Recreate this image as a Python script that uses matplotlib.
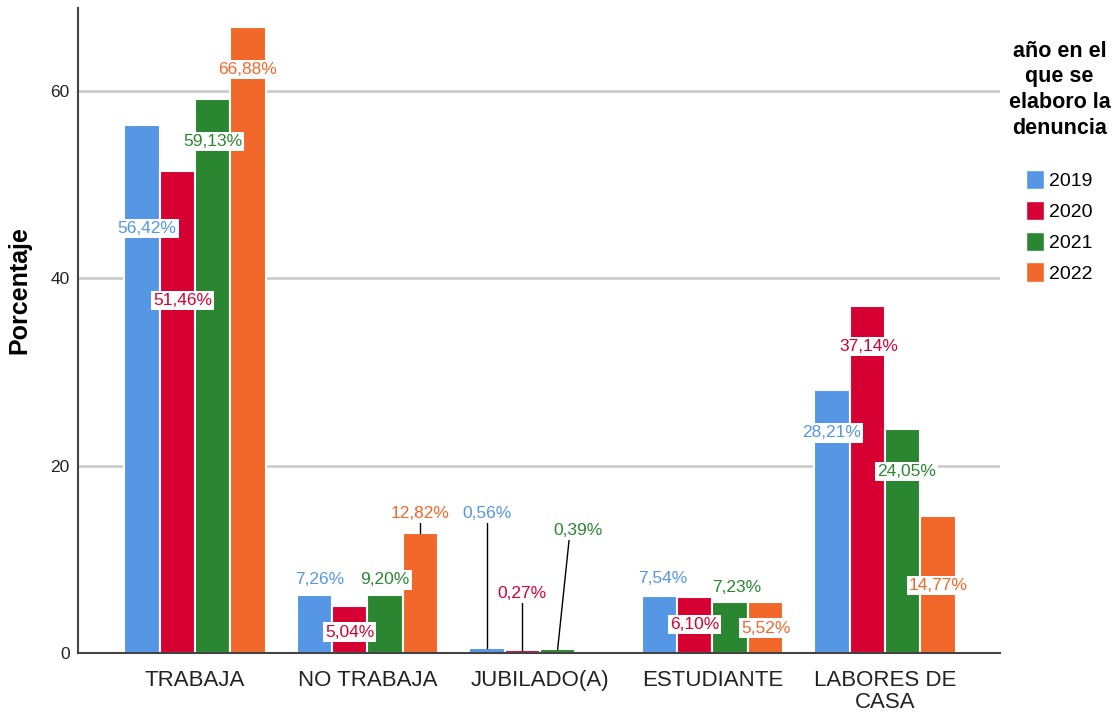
import numpy as np
import matplotlib.pyplot as plt
from matplotlib.patches import Patch

plt.rcParams['font.family'] = ['Liberation Sans', 'DejaVu Sans']

categories = ['TRABAJA', 'NO TRABAJA', 'JUBILADO(A)', 'ESTUDIANTE', 'LABORES DE\nCASA']
years = ['2019', '2020', '2021', '2022']

# bar heights as drawn in the picture (%)
v2019 = [56.42, 6.15, 0.56, 6.14, 28.1]
v2020 = [51.46, 5.0, 0.27, 6.0, 37.1]
v2021 = [59.13, 6.15, 0.39, 5.4, 23.9]
v2022 = [66.88, 12.82, np.nan, 5.4, 14.6]

# printed labels
l2019 = ['56,42%', '7,26%', '0,56%', '7,54%', '28,21%']
l2020 = ['51,46%', '5,04%', '0,27%', '6,10%', '37,14%']
l2021 = ['59,13%', '9,20%', '0,39%', '7,23%', '24,05%']
l2022 = ['66,88%', '12,82%', None, '5,52%', '14,77%']

values = [v2019, v2020, v2021, v2022]
texts = [l2019, l2020, l2021, l2022]
colors = ['#5596e5', '#d60032', '#2a8630', '#f2682a']

# where the labels sit (layout only)
label_y = [[45.3, 7.8, 14.95, 8.0, 23.5],
           [37.6, 2.24, 6.4, 3.0, 32.7],
           [54.6, 7.8, 13.1, 7.0, 19.4],
           [62.3, 14.95, np.nan, 2.67, 7.2]]
label_dx = [[0.03, 0.03, 0, 0.02, 0],
            [0.03, 0, 0, 0, 0.01],
            [0, 0, 0.12, 0.04, 0.02],
            [0, 0, 0, 0, 0]]

fig = plt.figure(figsize=(11.2, 7.25), dpi=100)
ax = fig.add_axes([0.0696, 0.0993, 0.8233, 0.89])

x = np.arange(len(categories))
step = 0.205
for i, (vals, col) in enumerate(zip(values, colors)):
    xs = x + (i - 1.5) * step
    ax.bar(xs, vals, width=step, color=col, edgecolor='white', linewidth=1.5, zorder=2)
    for j in range(len(categories)):
        t = texts[i][j]
        if t is None:
            continue
        ty = label_y[i][j]
        tx = xs[j] + label_dx[i][j]
        ax.text(tx, ty, t, color=col, fontsize=12.5, ha='center', va='center', zorder=4,
                bbox=dict(facecolor='white', edgecolor='none', pad=1.5))
        # leader line when the label floats well above the bar
        if ty - vals[j] > 2.0:
            ax.plot([tx - label_dx[i][j] * 0.45, xs[j]], [ty - 1.1, vals[j]],
                    color='black', lw=1, zorder=3)

ax.set_xlim(-0.678, 4.667)
ax.set_ylim(0, 68.9)
ax.set_yticks([0, 20, 40, 60])
ax.yaxis.grid(True, color='#c8c8c8', linewidth=1.8, zorder=0)
ax.set_axisbelow(True)
ax.set_xticks(x)
ax.set_xticklabels(categories, fontsize=16, color='#222222', linespacing=1.1)
ax.tick_params(axis='x', length=0, pad=12)
ax.tick_params(axis='y', length=0, labelsize=12.5, pad=6, labelcolor='#222222')
for s in ['top', 'right']:
    ax.spines[s].set_visible(False)
for s in ['left', 'bottom']:
    ax.spines[s].set_color('#444444')
    ax.spines[s].set_linewidth(1.5)

ax.set_ylabel('Porcentaje', fontsize=18, fontweight='bold')
ax.yaxis.set_label_coords(-0.05, 0.563)

handles = [Patch(facecolor=c, edgecolor='white') for c in colors]
leg = fig.legend(handles, years, loc='upper center', bbox_to_anchor=(0.946, 0.968),
                 frameon=False, fontsize=14, handlelength=0.9, handleheight=1.15,
                 handletextpad=0.3, labelspacing=0.55,
                 title='año en el\nque se\nelaboro la\ndenuncia',
                 title_fontproperties={'weight': 'bold', 'size': 15.5})
leg.get_title().set_multialignment('center')
leg.get_title().set_linespacing(1.3)
leg._legend_box.sep = 22

fig.savefig('out.png', dpi=100)
